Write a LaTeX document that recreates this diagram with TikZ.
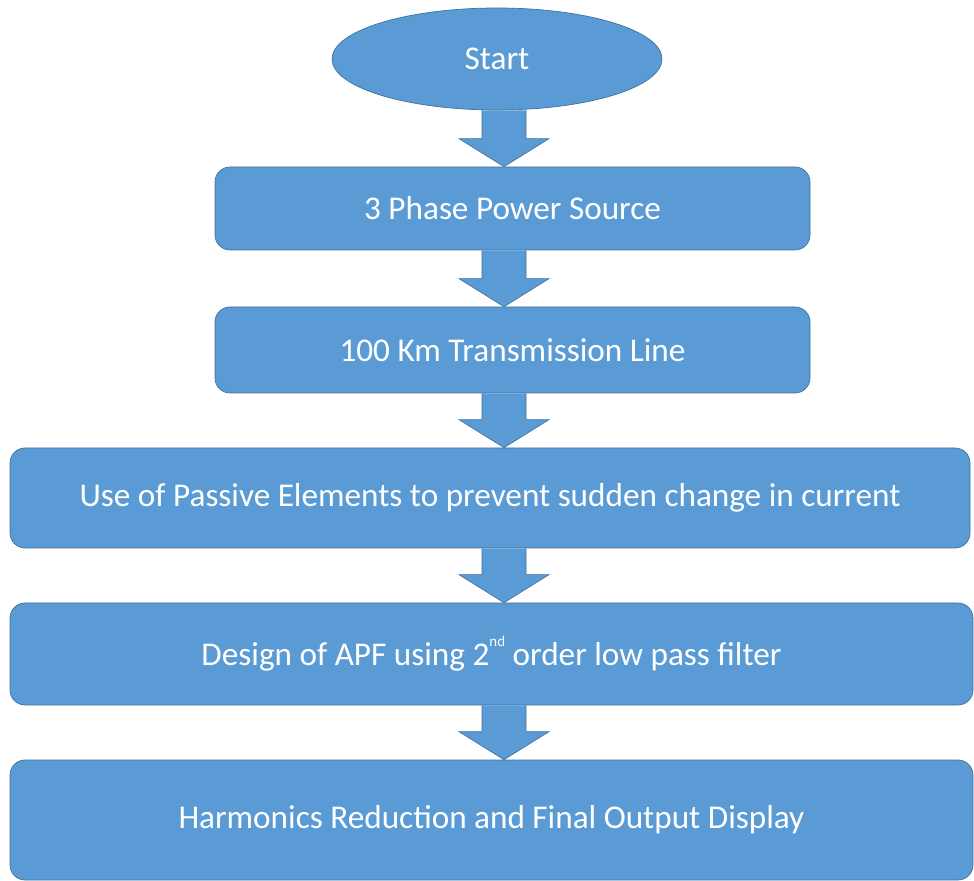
\documentclass[tikz,border=0pt]{standalone}
\usepackage{fontspec}
\setmainfont{Carlito}
\usetikzlibrary{shapes.geometric,calc}
\definecolor{boxblue}{HTML}{5B9BD5}
\definecolor{edgeblue}{HTML}{41719C}
\newcommand{\flowarrow}[2]{%
  \draw[arrowshape] ($(ax |- #1.south)+(-0.44,0)$) -- ($(ax |- #2.north)+(-0.44,0.56)$)
    -- ($(ax |- #2.north)+(-0.9,0.56)$) -- (ax |- #2.north)
    -- ($(ax |- #2.north)+(0.9,0.56)$) -- ($(ax |- #2.north)+(0.44,0.56)$)
    -- ($(ax |- #1.south)+(0.44,0)$);}
\begin{document}
\begin{tikzpicture}[
    stepbox/.style={draw=edgeblue, fill=boxblue, rounded corners=0.3cm, text=white,
                    font=\fontsize{18.9}{22}\selectfont, inner sep=0pt},
    startbox/.style={ellipse, draw=edgeblue, fill=boxblue, text=white,
                     font=\fontsize{18.9}{22}\selectfont, inner sep=0pt},
    arrowshape/.style={draw=edgeblue, fill=boxblue, line join=miter}]
    \useasboundingbox (0,0) rectangle (19.48,-17.62);
    \coordinate (ax) at (10.08,0);
    % blocks
    \node[startbox, minimum width=6.6cm, minimum height=2.04cm] (start) at (9.94,-1.18) {Start};
    \node[stepbox, minimum width=11.9cm, minimum height=1.66cm] (source) at (10.25,-4.17) {3 Phase Power Source};
    \node[stepbox, minimum width=11.9cm, minimum height=1.72cm] (line) at (10.25,-7.0) {100 Km Transmission Line};
    \node[stepbox, minimum width=19.2cm, minimum height=2.0cm] (passive) at (9.8,-9.96) {Use of Passive Elements to prevent sudden change in current};
    \node[stepbox, minimum width=19.26cm, minimum height=2.04cm] (apf) at (9.83,-13.08) {Design of APF using 2\raisebox{11pt}{\fontsize{8.5}{10}\selectfont nd} order low pass filter};
    \node[stepbox, minimum width=19.26cm, minimum height=2.4cm] (output) at (9.83,-16.4) {Harmonics Reduction and Final Output Display};
    % arrows
    \flowarrow{start}{source}
    \flowarrow{source}{line}
    \flowarrow{line}{passive}
    \flowarrow{passive}{apf}
    \flowarrow{apf}{output}
\end{tikzpicture}
\end{document}
